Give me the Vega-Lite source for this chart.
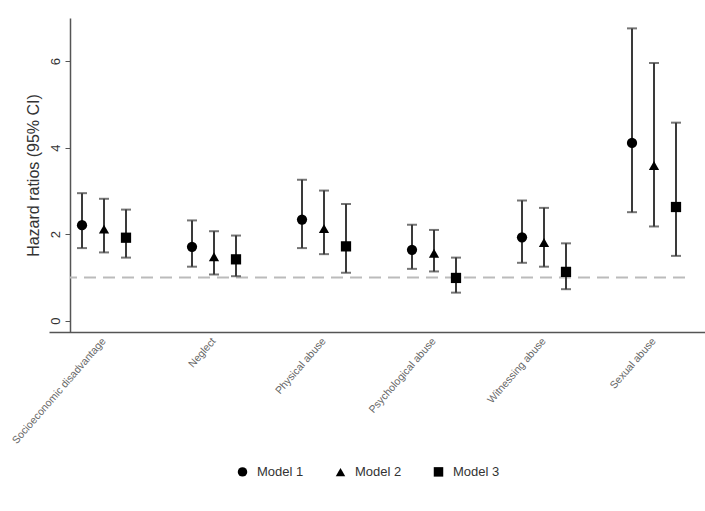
{
  "$schema": "https://vega.github.io/schema/vega-lite/v6.json",
  "width": 615,
  "height": 314,
  "autosize": {"type": "none"},
  "padding": {"left": 70, "top": 18, "right": 20, "bottom": 179},
  "background": "white",
  "config": {
    "font": "Liberation Sans",
    "view": {"stroke": null}
  },
  "layer": [
    {
      "data": {"values": [{"ref": 1}]},
      "mark": {"type": "rule", "color": "#bbbbbb", "strokeWidth": 2, "strokeDash": [12, 7]},
      "encoding": {
        "y": {"field": "ref", "type": "quantitative", "scale": {"domain": [-0.26, 7.0], "nice": false, "zero": false}}
      }
    },
    {
      "data": {"name": "main"},
      "encoding": {
        "x": {
          "field": "exposure", "type": "nominal",
          "sort": ["Socioeconomic disadvantage", "Neglect", "Physical abuse", "Psychological abuse", "Witnessing abuse", "Sexual abuse"],
          "scale": {"range": [-21, 639], "paddingInner": 0, "paddingOuter": 0},
          "axis": {
            "title": null, "labelAngle": -49, "labelAlign": "right", "labelBaseline": "middle",
            "labelFontSize": 10.5, "labelColor": "#666666", "ticks": false, "labelPadding": 7,
            "domainColor": "#555555", "domainWidth": 1.5, "grid": false
          }
        },
        "xOffset": {"field": "model", "type": "nominal", "scale": {"paddingOuter": 1, "paddingInner": 0}}
      },
      "layer": [
        {
          "mark": {"type": "rule", "color": "#3a3a3a", "strokeWidth": 2},
          "encoding": {
            "y": {"field": "lo", "type": "quantitative", "scale": {"domain": [-0.26, 7.0], "nice": false, "zero": false},
              "axis": {
                "title": "Hazard ratios (95% CI)", "titleFontSize": 16, "titleFontWeight": "normal", "titleColor": "#333333", "titlePadding": 8,
                "values": [0, 2, 4, 6], "labelAngle": -90, "labelFontSize": 13, "labelColor": "#333333", "labelPadding": 3,
                "tickSize": 5, "tickColor": "#555555", "domainColor": "#555555", "domainWidth": 1.5, "grid": false
              }
            },
            "y2": {"field": "hi"}
          }
        },
        {
          "mark": {"type": "tick", "orient": "horizontal", "size": 10, "thickness": 2, "color": "#3a3a3a"},
          "encoding": {"y": {"field": "lo", "type": "quantitative"}}
        },
        {
          "mark": {"type": "tick", "orient": "horizontal", "size": 10, "thickness": 2, "color": "#3a3a3a"},
          "encoding": {"y": {"field": "hi", "type": "quantitative"}}
        },
        {
          "mark": {"type": "point", "filled": true, "opacity": 1, "size": 105, "color": "black"},
          "encoding": {
            "y": {"field": "hr", "type": "quantitative"},
            "shape": {
              "field": "model", "type": "nominal",
              "scale": {"domain": ["Model 1", "Model 2", "Model 3"], "range": ["circle", "triangle-up", "square"]},
              "legend": {
                "title": null, "orient": "none", "direction": "horizontal", "legendX": 166, "legendY": 447,
                "labelFontSize": 13, "labelColor": "#333333", "symbolFillColor": "black", "symbolStrokeColor": "black",
                "symbolSize": 90, "labelOffset": 8, "columnPadding": 28
              }
            }
          }
        }
      ]
    }
  ],
  "datasets": {
    "main": [
      {"exposure": "Socioeconomic disadvantage", "model": "Model 1", "hr": 2.21, "lo": 1.68, "hi": 2.95},
      {"exposure": "Socioeconomic disadvantage", "model": "Model 2", "hr": 2.12, "lo": 1.58, "hi": 2.82},
      {"exposure": "Socioeconomic disadvantage", "model": "Model 3", "hr": 1.92, "lo": 1.46, "hi": 2.57},
      {"exposure": "Neglect", "model": "Model 1", "hr": 1.71, "lo": 1.25, "hi": 2.32},
      {"exposure": "Neglect", "model": "Model 2", "hr": 1.48, "lo": 1.07, "hi": 2.07},
      {"exposure": "Neglect", "model": "Model 3", "hr": 1.42, "lo": 1.03, "hi": 1.97},
      {"exposure": "Physical abuse", "model": "Model 1", "hr": 2.34, "lo": 1.68, "hi": 3.26},
      {"exposure": "Physical abuse", "model": "Model 2", "hr": 2.13, "lo": 1.54, "hi": 3.01},
      {"exposure": "Physical abuse", "model": "Model 3", "hr": 1.72, "lo": 1.11, "hi": 2.70},
      {"exposure": "Psychological abuse", "model": "Model 1", "hr": 1.64, "lo": 1.20, "hi": 2.22},
      {"exposure": "Psychological abuse", "model": "Model 2", "hr": 1.56, "lo": 1.14, "hi": 2.10},
      {"exposure": "Psychological abuse", "model": "Model 3", "hr": 0.99, "lo": 0.65, "hi": 1.46},
      {"exposure": "Witnessing abuse", "model": "Model 1", "hr": 1.93, "lo": 1.34, "hi": 2.78},
      {"exposure": "Witnessing abuse", "model": "Model 2", "hr": 1.81, "lo": 1.25, "hi": 2.61},
      {"exposure": "Witnessing abuse", "model": "Model 3", "hr": 1.13, "lo": 0.73, "hi": 1.79},
      {"exposure": "Sexual abuse", "model": "Model 1", "hr": 4.11, "lo": 2.51, "hi": 6.76},
      {"exposure": "Sexual abuse", "model": "Model 2", "hr": 3.59, "lo": 2.18, "hi": 5.96},
      {"exposure": "Sexual abuse", "model": "Model 3", "hr": 2.63, "lo": 1.50, "hi": 4.58}
    ]
  }
}
